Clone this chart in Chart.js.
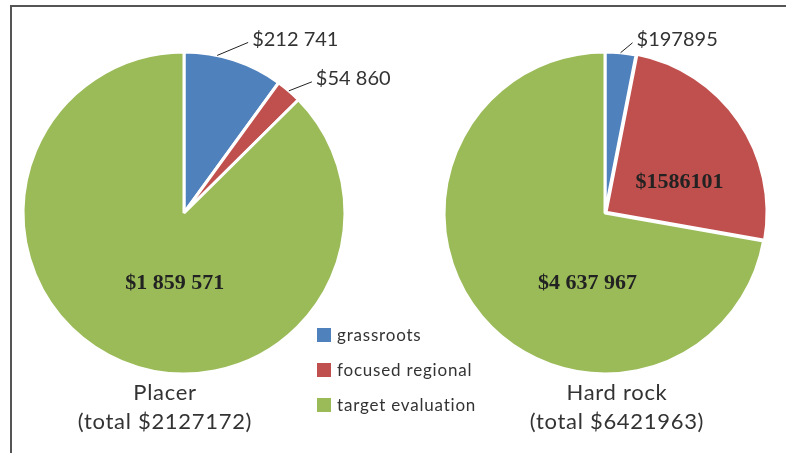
<!DOCTYPE html>
<html>
<head>
<meta charset="utf-8">
<script src="https://cdn.jsdelivr.net/npm/chart.js@4.4.1/dist/chart.umd.min.js"></script>
<style>
  body { margin: 0; background: #fff; }
  #wrap { position: relative; width: 786px; height: 453px; overflow: hidden; font-family: Lato, sans-serif; color: #333; }
  #frame { position: absolute; left: 10px; top: 5px; width: 774px; height: 460px;
           border-left: 2px solid #555; border-top: 2px solid #555; border-right: 2px solid #ccc; }
  canvas { position: absolute; left: 0; top: 0; }
  .ttl { position: absolute; width: 280px; text-align: center; font-size: 22px; line-height: 29px; letter-spacing: 0.7px; }
  #legend { position: absolute; left: 317px; top: 322px; font-size: 17px; letter-spacing: 0.8px; }
  #legend div { height: 35px; line-height: 26px; white-space: nowrap; }
  #legend span { display: inline-block; width: 14px; height: 14px; margin-right: 6px; vertical-align: -1px; }
</style>
</head>
<body>
<div id="wrap">
  <div id="frame"></div>
  <canvas id="chart1" width="786" height="453"></canvas>
  <canvas id="chart2" width="786" height="453"></canvas>
  <div class="ttl" style="left:25px; top:377px;">Placer<br>(total $2127172)</div>
  <div class="ttl" style="left:477px; top:377px;">Hard rock<br>(total $6421963)</div>
  <div id="legend"></div>
</div>
<script>
const categories = ['grassroots', 'focused regional', 'target evaluation'];
const colores = ['#4F81BD', '#C0504D', '#9BBB59'];

const placerValues = [212741, 54860, 1859571];
const placerLabels = ['$212 741', '$54 860', '$1 859 571'];

const hardRockValues = [197895, 1586101, 4637967];
const hardRockLabels = ['$197895', '$1586101', '$4 637 967'];

// legend
let leg = document.getElementById('legend');
categories.forEach((c, i) => {
    leg.innerHTML += '<div><span style="background:' + colores[i] + '"></span>' + c + '</div>';
});

// label placement per chart (kept outside chart options)
const etiquetas = {};

// draws value labels: outer ones with a leader line, inner ones in bold
const sliceLabels = {
    id: 'sliceLabels',
    afterDatasetsDraw(chart) {
        const conf = etiquetas[chart.canvas.id];
        const ctx = chart.ctx;
        const arcs = chart.getDatasetMeta(0).data;
        ctx.save();
        conf.items.forEach((it, i) => {
            const a = arcs[i];
            const txt = conf.texts[i];
            const frac = (typeof it.pos === 'number') ? it.pos : 0.5;
            const ang = a.startAngle + (a.endAngle - a.startAngle) * frac;
            if (it.type === 'outer') {
                const r = a.outerRadius;
                const sx = a.x + r * Math.cos(ang), sy = a.y + r * Math.sin(ang);
                const ex = sx + it.dx, ey = sy + it.dy;
                ctx.strokeStyle = '#222';
                ctx.lineWidth = 1;
                ctx.beginPath();
                ctx.moveTo(sx, sy);
                ctx.lineTo(ex, ey);
                ctx.stroke();
                ctx.fillStyle = '#333';
                ctx.font = '20px Lato';
                ctx.textAlign = 'left';
                ctx.textBaseline = 'middle';
                ctx.fillText(txt, ex + 4, ey - 3);
            } else {
                const r = a.outerRadius * it.f;
                ctx.fillStyle = '#222';
                ctx.font = 'bold 22px "Liberation Serif"';
                ctx.textAlign = 'center';
                ctx.textBaseline = 'middle';
                ctx.fillText(txt, a.x + r * Math.cos(ang) + it.dx, a.y + r * Math.sin(ang) + it.dy);
            }
        });
        ctx.restore();
    }
};

function crearPie(id, values, texts, pad, offsets, items) {
    etiquetas[id] = { texts: texts, items: items };
    let ctx = document.getElementById(id);
    return new Chart(ctx, {
        type: 'pie',
        data: {
            labels: categories,
            datasets: [{
                data: values,
                backgroundColor: colores,
                borderColor: '#fff',
                borderWidth: 3,
                offset: offsets
            }]
        },
        options: {
            responsive: false,
            animation: false,
            events: [],
            radius: 161,
            layout: { padding: pad },
            plugins: {
                legend: { display: false },
                tooltip: { enabled: false }
            }
        },
        plugins: [sliceLabels]
    });
}

let tablaPlacer = crearPie('chart1', placerValues, placerLabels,
    { left: 24, right: 442, top: 53, bottom: 80 }, [0, 0, 0],
    [
        { type: 'outer', pos: 0.33, dx: 31, dy: -13 },
        { type: 'outer', dx: 23, dy: -9 },
        { type: 'inner', f: 0.47, dx: 20, dy: 0 }
    ]);

let tablaHardRock = crearPie('chart2', hardRockValues, hardRockLabels,
    { left: 445, right: 21, top: 53, bottom: 80 }, [0, 5, 0],
    [
        { type: 'outer', dx: 12, dy: -10 },
        { type: 'inner', f: 0.5, dx: 8, dy: 15 },
        { type: 'inner', f: 0.45, dx: 38, dy: 24 }
    ]);
</script>
</body>
</html>
